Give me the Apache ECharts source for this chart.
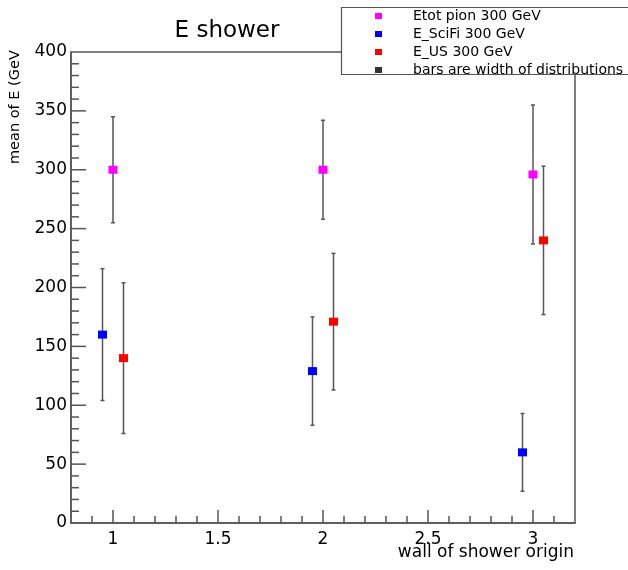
<!DOCTYPE html>
<html><head><meta charset="utf-8">
<script src="https://cdn.jsdelivr.net/npm/echarts@6/dist/echarts.min.js"></script>
<style>html,body{margin:0;padding:0;background:#fff}#c{width:628px;height:570px}</style>
</head><body><div id="c"></div>
<script>
const seriesNames = ['Etot pion 300 GeV','E_SciFi 300 GeV','E_US 300 GeV','bars are width of distributions'];
const xPion = [1, 2, 3];
const yPion = [300, 300, 296];
const ePion = [45, 42, 59];
const xSciFi = [0.95, 1.95, 2.95];
const ySciFi = [160, 129, 60];
const eSciFi = [56, 46, 33];
const xUS = [1.05, 2.05, 3.05];
const yUS = [140, 171, 240];
const eUS = [64, 58, 63];
const xMajor = [1, 1.5, 2, 2.5, 3];
const xMinor = [0.9,1.1,1.2,1.3,1.4,1.6,1.7,1.8,1.9,2.1,2.2,2.3,2.4,2.6,2.7,2.8,2.9,3.1];
const yMajor = [50,100,150,200,250,300,350];
const yMinor = [10,20,30,40,60,70,80,90,110,120,130,140,160,170,180,190,210,220,230,240,260,270,280,290,310,320,330,340,360,370,380,390];
const X_MIN = 0.8, X_MAX = 3.2, Y_MIN = 0, Y_MAX = 400;

const FONT = '"DejaVu Sans", sans-serif';
const colors = ['#ff00ff','#0000ff','#ff0000','#000000'];
const AX = '#555';

function pts(xs, ys, es){ return xs.map((x,i)=>[x, ys[i], ys[i]-es[i], ys[i]+es[i]]); }

function errSeries(data){
  return {
    type:'custom', silent:true, z:2,
    data: data,
    encode:{x:0, y:[2,3]},
    renderItem:function(params, api){
      const x = api.value(0);
      const lo = api.coord([x, api.value(2)]);
      const hi = api.coord([x, api.value(3)]);
      const st = {stroke:'#555', lineWidth:1.5};
      return {type:'group', children:[
        {type:'line', shape:{x1:lo[0],y1:lo[1],x2:hi[0],y2:hi[1]}, style:st},
        {type:'line', shape:{x1:lo[0]-2,y1:lo[1],x2:lo[0]+2,y2:lo[1]}, style:st},
        {type:'line', shape:{x1:hi[0]-2,y1:hi[1],x2:hi[0]+2,y2:hi[1]}, style:st}
      ]};
    }
  };
}

// tick marks drawn through the axes' scales: [x, y, length, isYTick]
const tickData = [].concat(
  xMajor.map(v=>[v,Y_MIN,13,0]), xMinor.map(v=>[v,Y_MIN,7,0]),
  yMajor.map(v=>[X_MIN,v,15,1]), yMinor.map(v=>[X_MIN,v,8,1])
);
const tickSeries = {
  type:'custom', silent:true, z:3, clip:false,
  data: tickData,
  encode:{x:0, y:1},
  renderItem:function(params, api){
    const p = api.coord([api.value(0), api.value(1)]);
    const len = api.value(2), isY = api.value(3);
    const st = {stroke:AX, lineWidth:1.5};
    if (isY) return {type:'line', shape:{x1:p[0], y1:p[1], x2:p[0]+len, y2:p[1]}, style:st};
    return {type:'line', shape:{x1:p[0], y1:p[1], x2:p[0], y2:p[1]-len}, style:st};
  }
};

const chart = echarts.init(document.getElementById('c'), null, {renderer:'canvas'});
const pionD = pts(xPion,yPion,ePion), sciD = pts(xSciFi,ySciFi,eSciFi), usD = pts(xUS,yUS,eUS);
const scat = (i, d) => ({name:seriesNames[i], type:'scatter', symbol:'rect', symbolSize:[9,8],
  itemStyle:{color:colors[i], opacity:1}, data:d.map(p=>[p[0],p[1]]), z:5});
chart.setOption({
  animation:false,
  backgroundColor:'#fff',
  title:{text:'E shower', left:222, top:15, textAlign:'center',
    textStyle:{fontFamily:FONT, fontSize:23, fontWeight:'normal', color:'#000'}},
  graphic:[
    {type:'rect', shape:{x:341.5, y:7.5, width:290, height:67}, style:{fill:'#fff', stroke:'#555', lineWidth:1.2}, z:100},
    {type:'text', rotation:Math.PI/2, x:8, y:164, style:{text:'mean of E (GeV', fontFamily:FONT, fontSize:14.5, fill:'#000'}, z:10},
    {type:'text', x:574, y:544, style:{text:'wall of shower origin', fontFamily:FONT, fontSize:17, fill:'#000', align:'right', verticalAlign:'top'}, z:10}
  ],
  legend:{
    orient:'vertical', left:375, top:9, padding:0, itemGap:4, itemWidth:7, itemHeight:6, icon:'rect',
    data:seriesNames, z:200,
    textStyle:{fontFamily:FONT, fontSize:14, color:'#000', padding:[0,0,0,26]},
    selectedMode:false
  },
  grid:{left:71, right:53, top:52, bottom:47, show:true, borderColor:AX, borderWidth:1.5,
    backgroundColor:'transparent', containLabel:false, outerBoundsMode:'none'},
  xAxis:{type:'value', min:X_MIN, max:X_MAX,
     axisLine:{onZero:false, lineStyle:{color:AX, width:1.5}},
     axisTick:{show:false},
     axisLabel:{customValues:xMajor, fontFamily:FONT, fontSize:17, color:'#000', margin:8},
     splitLine:{show:false}},
  yAxis:{type:'value', min:Y_MIN, max:Y_MAX, interval:50,
    axisLine:{show:true, onZero:false, lineStyle:{color:AX, width:1.5}},
    axisTick:{show:false},
    axisLabel:{fontFamily:FONT, fontSize:17, color:'#000', margin:4},
    splitLine:{show:false}},
  series:[
    tickSeries,
    errSeries(pionD), errSeries(sciD), errSeries(usD),
    scat(0,pionD), scat(1,sciD), scat(2,usD),
    {name:seriesNames[3], type:'scatter', symbol:'rect', itemStyle:{color:colors[3]}, data:[]}
  ]
});
</script></body></html>
